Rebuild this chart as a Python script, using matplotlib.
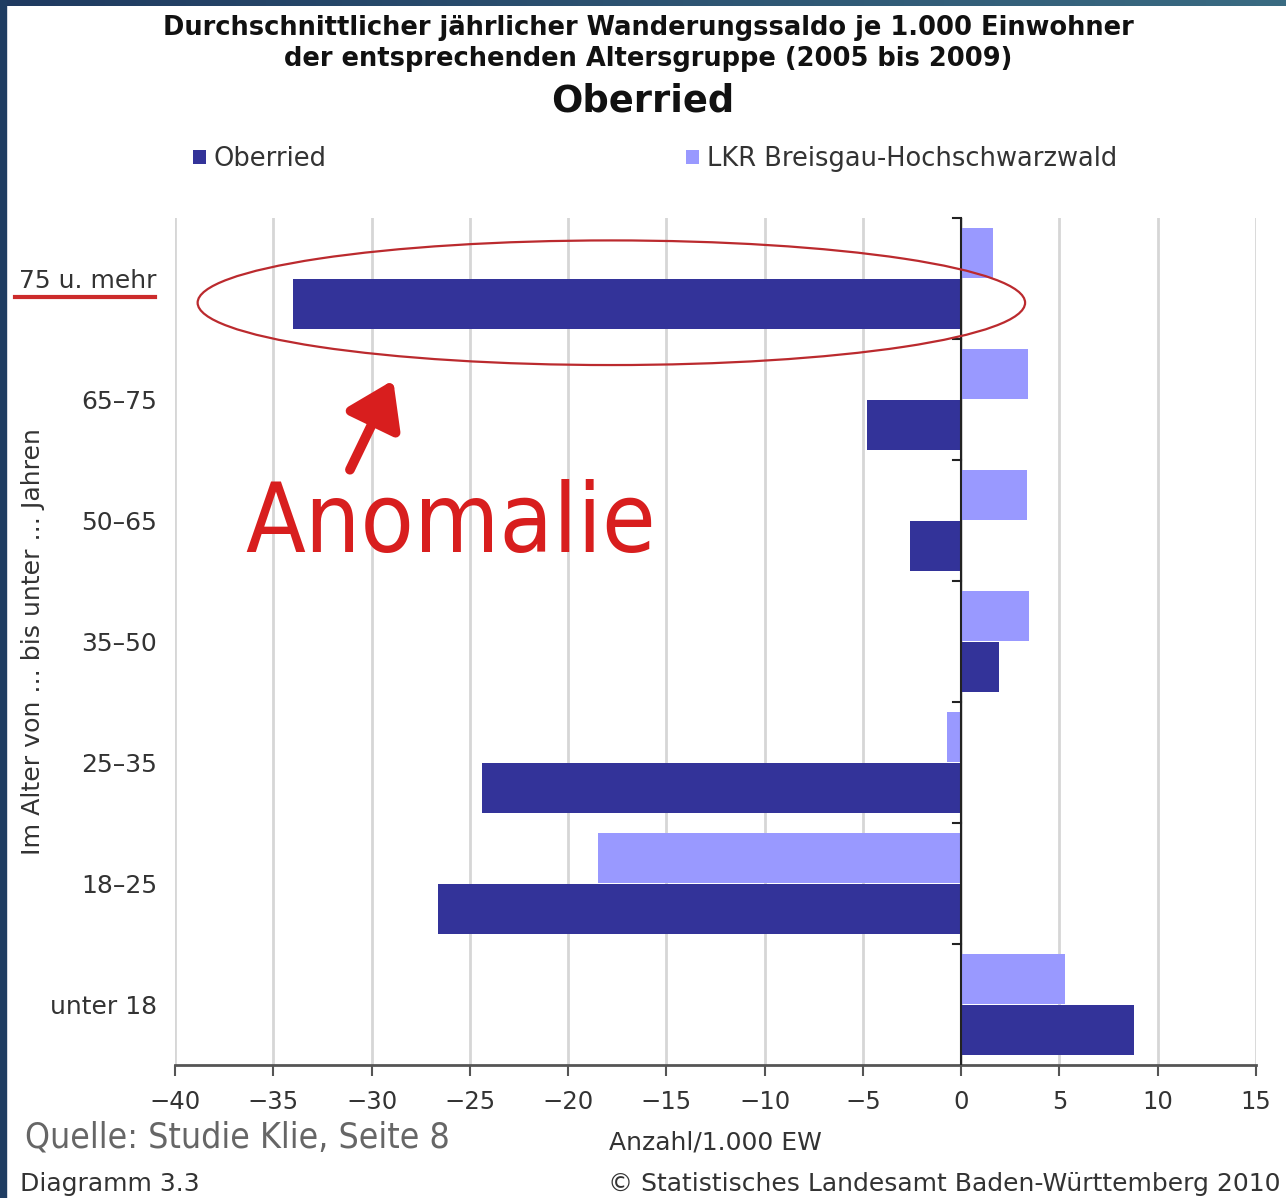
import numpy as np
import matplotlib
matplotlib.use("Agg")
import matplotlib.pyplot as plt
from matplotlib import font_manager as fm
from matplotlib.patches import Ellipse, Rectangle
from matplotlib.lines import Line2D

# data (per 1000 inhabitants, 2005-2009)
age_groups = ["unter 18", "18–25", "25–35", "35–50", "50–65", "65–75", "75 u. mehr"]
oberried = [8.8, -26.6, -24.4, 1.9, -2.6, -4.8, -34.0]
lkr = [5.3, -18.5, -0.7, 3.45, 3.35, 3.4, 1.6]
xticks = list(range(-40, 16, 5))

c_ober = "#333399"
c_lkr = "#9999ff"
red = "#d81e1e"


def find_narrow():
    # look for some condensed face among the installed fonts
    rank = {"ultra-condensed": 0, "extra-condensed": 1, "condensed": 2, "semi-condensed": 3}
    best = None
    for f in fm.fontManager.ttflist:
        fn = f.fname.lower()
        if any(k in fn for k in ["bold", "italic", "oblique", "black", "thin"]):
            continue
        st = f.stretch if isinstance(f.stretch, str) else ""
        r = rank.get(st)
        if r is None and ("condensed" in fn or "narrow" in fn):
            r = 2
        if r is None:
            continue
        if best is None or r < best[0]:
            best = (r, f.fname)
    return fm.FontProperties(fname=best[1]) if best else fm.FontProperties(family="DejaVu Sans")


narrow = find_narrow()

plt.rcParams['font.family'] = ['DejaVu Sans']

fig = plt.figure(figsize=(12.86, 11.98), dpi=100)
ax = fig.add_axes([0.1361, 0.111, 0.8406, 0.707])

y = np.arange(len(age_groups))
bh = 0.41
b_lkr = ax.barh(y + 0.21, lkr, height=bh, color=c_lkr, label="LKR Breisgau-Hochschwarzwald", zorder=3)
b_ober = ax.barh(y - 0.21, oberried, height=bh, color=c_ober, label="Oberried", zorder=3)

ax.set_xlim(-40, 15)
ax.set_ylim(-0.5, 6.5)
ax.set_xticks(xticks)
ax.set_yticks(y)
ax.set_yticklabels(age_groups)
ax.grid(axis="x", color="#d6d6d6", lw=2, zorder=0)
for s in ["top", "right", "left"]:
    ax.spines[s].set_visible(False)
ax.spines["bottom"].set_color("#555555")
ax.spines["bottom"].set_linewidth(2)
ax.tick_params(axis="x", direction="out", length=8, width=1.5, color="#555555",
               labelsize=17.5, labelcolor="#333333", pad=10)
ax.tick_params(axis="y", length=0, labelsize=18, labelcolor="#333333", pad=13)

# zero line with category ticks
ax.axvline(0, color="#222222", lw=1.5, zorder=4)
for b in np.arange(0.5, 7, 1.0):
    ax.plot([-0.4, 0], [b, b], color="#222222", lw=1.5, zorder=4, clip_on=False)

ax.set_xlabel("Anzahl/1.000 EW", fontsize=18, color="#333333", labelpad=12)
ax.set_ylabel("Im Alter von ... bis unter ... Jahren", fontsize=18.2, color="#333333")
ax.yaxis.set_label_coords(-0.120, 0.5)

ax.legend(handles=[b_ober, b_lkr], ncol=2, loc="upper left", bbox_to_anchor=(0.150, 0.878),
          bbox_transform=fig.transFigure, frameon=False, fontsize=18.5, borderpad=0,
          borderaxespad=0, handlelength=0.5, handleheight=0.5, handletextpad=0.3,
          columnspacing=14.0, labelcolor="#333333")

# titles
fig.text(0.504, 0.977, "Durchschnittlicher jährlicher Wanderungssaldo je 1.000 Einwohner",
         ha="center", va="center", fontsize=18.5, fontweight="bold", color="#111111")
fig.text(0.504, 0.951, "der entsprechenden Altersgruppe (2005 bis 2009)",
         ha="center", va="center", fontsize=18.5, fontweight="bold", color="#111111")
fig.text(0.5, 0.916, "Oberried", ha="center", va="center", fontsize=26.5, fontweight="bold",
         color="#111111")

# annotations
ax.add_patch(Ellipse((-17.8, 5.8), 42.1, 1.03, fill=False, ec="#bb2a2e", lw=1.6, zorder=5,
                     clip_on=False))
ax.annotate("", xy=(-28.9, 5.16), xytext=(-31.1, 4.42),
            arrowprops=dict(arrowstyle="-|>,head_length=0.9,head_width=0.6", lw=7,
                            color=red, mutation_scale=30, shrinkA=0, shrinkB=0), zorder=6)
anom = ax.text(-36.4, 3.74, "Anomalie", color=red, fontproperties=narrow,
               ha="left", va="baseline", zorder=6)
anom.set_fontsize(80)
fig.add_artist(Line2D([15 / 1286, 155 / 1286], [1 - 297 / 1198] * 2, color="#cc2b2b", lw=3))

# footer
quelle = fig.text(25 / 1286, 1 - 1138 / 1198, "Quelle: Studie Klie, Seite 8", color="#666666",
                  fontproperties=narrow, ha="left", va="center")
quelle.set_fontsize(34)
fig.text(20 / 1286, 1 - 1184 / 1198, "Diagramm 3.3", color="#333333", fontsize=18,
         ha="left", va="center")
fig.text(1280 / 1286, 1 - 1184 / 1198, "© Statistisches Landesamt Baden-Württemberg 2010",
         color="#333333", fontsize=18, ha="right", va="center")

# shrink the narrow texts toward the reference widths
fig.canvas.draw()
r = fig.canvas.get_renderer()
for t, target, k in [(anom, 302, 0.3), (quelle, 320, 0.5)]:
    w = t.get_window_extent(r).width
    if w > target:
        t.set_fontsize(t.get_fontsize() * (target / w) ** k)

# frame bands
fig.add_artist(Rectangle((0, 0), 6 / 1286, 1, transform=fig.transFigure, color="#1f3d62",
                         zorder=10))
band = fig.add_axes([0, 1 - 6 / 1198, 1, 6 / 1198])
grad = np.linspace(0, 1, 256).reshape(1, -1)
band.imshow(grad, aspect="auto", cmap=matplotlib.colors.LinearSegmentedColormap.from_list(
    "b", ["#1f3a60", "#3a6b82"]))
band.axis("off")

fig.savefig("out.png", dpi=100)
